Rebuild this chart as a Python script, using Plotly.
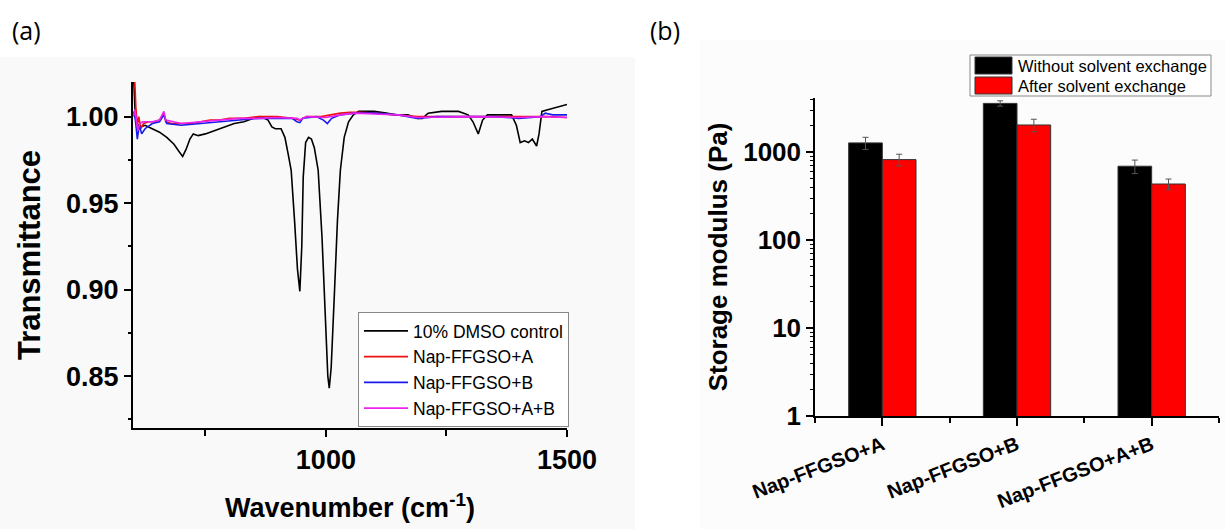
import plotly.graph_objects as go

W, H = 1225, 529

# ---------------- (a) FTIR spectra ----------------
wn_control = [601, 604, 608, 615, 625, 640, 655, 670, 685, 695, 703, 710, 718, 725, 735, 750,
              770, 790, 810, 830, 850, 865, 880, 888, 895, 907, 915, 922, 928, 935, 941, 946,
              950, 953, 958, 964, 970, 976, 984, 992, 1000, 1004, 1007, 1011, 1018, 1024, 1030,
              1038, 1047, 1057, 1068, 1100, 1125, 1145, 1170, 1190, 1200, 1212, 1240, 1275, 1295,
              1305, 1316, 1325, 1335, 1360, 1385, 1395, 1403, 1412, 1420, 1428, 1433, 1437, 1442,
              1448, 1460, 1475, 1490, 1500]
t_control = [1.025, 1.005, 0.996, 0.994, 0.995, 0.993, 0.991, 0.988, 0.984, 0.980, 0.977, 0.981,
             0.987, 0.990, 0.989, 0.990, 0.992, 0.994, 0.996, 0.997, 0.999, 1.000, 0.998, 0.994,
             0.993, 0.993, 0.988, 0.978, 0.969, 0.940, 0.912, 0.899, 0.925, 0.965, 0.985, 0.988,
             0.987, 0.982, 0.969, 0.930, 0.875, 0.850, 0.843, 0.855, 0.900, 0.940, 0.969, 0.988,
             0.997, 1.001, 1.003, 1.003, 1.002, 1.001, 1.001, 0.999, 0.999, 1.002, 1.003, 1.003,
             1.001, 0.997, 0.990, 0.998, 1.001, 1.001, 1.001, 0.995, 0.985, 0.986, 0.985, 0.987,
             0.985, 0.983, 0.990, 1.003, 1.004, 1.005, 1.006, 1.007]

wn_a = [601, 603, 606, 609, 612, 616, 622, 632, 645, 655, 664, 668, 680, 700, 720, 740, 760, 780,
        800, 830, 860, 900, 930, 946, 960, 990, 1010, 1030, 1050, 1070, 1100, 1140, 1190, 1230,
        1300, 1350, 1400, 1440, 1460, 1500]
t_a = [1.025, 1.025, 1.005, 0.995, 1.000, 0.993, 0.996, 0.997, 0.997, 0.998, 1.002, 0.997, 0.996,
       0.996, 0.996, 0.997, 0.998, 0.998, 0.999, 0.999, 1.000, 1.000, 0.999, 0.998, 1.000, 1.000,
       1.001, 1.002, 1.0025, 1.0025, 1.002, 1.001, 1.000, 1.000, 1.000, 1.000, 1.000, 1.000,
       1.000, 0.9995]

wn_b = [601, 605, 609, 613, 618, 625, 640, 655, 664, 670, 700, 740, 780, 820, 860, 900, 930, 940,
        946, 952, 980, 995, 1003, 1012, 1030, 1060, 1100, 1150, 1190, 1230, 1300, 1350, 1400,
        1445, 1455, 1470, 1500]
t_b = [1.003, 0.998, 0.987, 0.995, 0.990, 0.993, 0.996, 0.997, 1.001, 0.996, 0.995, 0.996, 0.997,
       0.998, 0.999, 0.999, 0.999, 0.997, 0.9965, 0.999, 1.000, 0.998, 0.996, 0.999, 1.001, 1.002,
       1.002, 1.001, 0.999, 1.000, 1.000, 1.000, 0.999, 1.000, 1.002, 1.001, 1.001]

wn_ab = [601, 604, 607, 610, 614, 620, 640, 655, 664, 668, 700, 740, 780, 820, 860, 900, 940, 946,
         960, 1000, 1030, 1060, 1100, 1150, 1190, 1300, 1400, 1450, 1500]
t_ab = [1.000, 1.004, 0.998, 0.992, 0.996, 0.997, 0.997, 0.998, 1.003, 0.998, 0.996, 0.997, 0.998,
        0.999, 0.999, 0.9995, 0.999, 0.998, 1.000, 0.9995, 1.001, 1.002, 1.0015, 1.001, 0.9995,
        1.000, 0.9995, 1.000, 0.9995]

spec_names = ["10% DMSO control", "Nap-FFGSO+A", "Nap-FFGSO+B", "Nap-FFGSO+A+B"]

# ---------------- (b) storage modulus ----------------
categories = ["Nap-FFGSO+A", "Nap-FFGSO+B", "Nap-FFGSO+A+B"]
g_without = [1270, 3570, 690]
g_without_err = [200, 250, 120]
g_after = [820, 2030, 433]
g_after_err = [124, 328, 60]
bar_names = ["Without solvent exchange", "After solvent exchange"]

FONT = "Liberation Sans, Arial, sans-serif"


def px(x):
    return x / W


def py(y):
    return 1 - y / H


fig = go.Figure()

spec_colors = ["#000000", "#ee1111", "#1a1aee", "#ee22ee"]
for wn, tr, name, col in zip([wn_control, wn_a, wn_b, wn_ab], [t_control, t_a, t_b, t_ab],
                             spec_names, spec_colors):
    fig.add_trace(go.Scatter(x=wn, y=tr, mode="lines", name=name,
                             line=dict(color=col, width=1.6),
                             xaxis="x", yaxis="y", legend="legend"))

x_pos = list(range(1, len(categories) + 1))
fig.add_trace(go.Bar(x=x_pos, y=g_without, name=bar_names[0], showlegend=False,
                     marker=dict(color="#000000", line=dict(color="#333333", width=1)),
                     error_y=dict(type="data", array=g_without_err, color="#555555",
                                  thickness=1, width=3),
                     xaxis="x2", yaxis="y2"))
fig.add_trace(go.Bar(x=x_pos, y=g_after, name=bar_names[1], showlegend=False,
                     marker=dict(color="#ff0000", line=dict(color="#333333", width=1)),
                     error_y=dict(type="data", array=g_after_err, color="#555555",
                                  thickness=1, width=3),
                     xaxis="x2", yaxis="y2"))

tickfont = dict(family=FONT, size=27, color="black", weight="bold")

fig.update_layout(
    width=W, height=H,
    margin=dict(l=0, r=0, t=0, b=0, autoexpand=False),
    paper_bgcolor="white",
    plot_bgcolor="rgba(0,0,0,0)",
    barmode="group", bargap=0.5, bargroupgap=0,
    font=dict(family=FONT, color="black"),
    xaxis=dict(domain=[px(133), px(567)], range=[600, 1500], anchor="y", automargin=False,
               showline=True, linecolor="black", linewidth=2,
               ticks="outside", ticklen=7, tickwidth=2, tickcolor="black",
               tick0=0, dtick=500, showgrid=False, zeroline=False,
               minor=dict(ticks="outside", ticklen=6, tickwidth=2, tickcolor="black",
                          dtick=250, showgrid=False),
               tickfont=tickfont,
               title=dict(text="Wavenumber (cm<sup>-1</sup>)", standoff=24,
                          font=dict(family=FONT, size=27, color="black", weight="bold"))),
    yaxis=dict(domain=[py(428), py(82)], range=[0.82, 1.02], anchor="x", automargin=False,
               showline=True, linecolor="black", linewidth=2,
               ticks="outside", ticklen=7, tickwidth=2, tickcolor="black",
               tick0=0, dtick=0.05, tickformat=".2f", showgrid=False, zeroline=False,
               minor=dict(ticks="outside", ticklen=3, tickwidth=2, tickcolor="black",
                          dtick=0.025, showgrid=False),
               tickfont=tickfont,
               title=dict(text="Transmittance", standoff=16,
                          font=dict(family=FONT, size=31, color="black", weight="bold"))),
    xaxis2=dict(domain=[px(815), px(1219)], range=[0.5, 3.5], anchor="y2", automargin=False,
                showline=True, linecolor="black", linewidth=1.5,
                tickmode="array", tickvals=x_pos, ticktext=categories,
                ticks="outside", ticklen=8, tickwidth=1.5, tickcolor="black",
                minor=dict(ticks="outside", ticklen=5, tickwidth=1.5, tickcolor="black",
                           tick0=0.5, dtick=1, showgrid=False),
                tickangle=-21, showgrid=False, zeroline=False,
                tickfont=dict(family=FONT, size=20, color="black", weight="bold")),
    yaxis2=dict(domain=[py(416), py(98)], type="log", range=[0, 3.614], anchor="x2",
                automargin=False,
                showline=True, linecolor="black", linewidth=1.5,
                tickmode="array", tickvals=[1, 10, 100, 1000], ticktext=["1", "10", "100", "1000"],
                ticks="outside", ticklen=7, tickwidth=1.5, tickcolor="black",
                minor=dict(ticks="outside", ticklen=3, tickwidth=1, tickcolor="black",
                           dtick="D1", showgrid=False),
                showgrid=False, zeroline=False,
                tickfont=dict(family=FONT, size=26, color="black", weight="bold"),
                title=dict(text="Storage modulus (Pa)", standoff=8,
                           font=dict(family=FONT, size=26, color="black", weight="bold"))),
    legend=dict(x=px(569), y=py(427), xanchor="right", yanchor="bottom",
                bgcolor="white", bordercolor="#888888", borderwidth=1,
                font=dict(family=FONT, size=17.5, color="black"),
                tracegroupgap=0, itemwidth=44),
)

# light backgrounds of the two panels
fig.add_shape(type="rect", xref="paper", yref="paper", x0=0, x1=px(635), y0=0, y1=py(57),
              fillcolor="#f9f9f9", line=dict(width=0), layer="below")
fig.add_shape(type="rect", xref="paper", yref="paper", x0=px(700), x1=1, y0=0, y1=py(40),
              fillcolor="#fcfcfc", line=dict(width=0), layer="below")

# legend of panel (b)
fig.add_shape(type="rect", xref="paper", yref="paper", x0=px(970), x1=px(1211),
              y0=py(96), y1=py(55), fillcolor="white", line=dict(color="#888888", width=1))
for i, (name, col) in enumerate(zip(bar_names, ["#000000", "#ff0000"])):
    top = 57 + i * 20
    fig.add_shape(type="rect", xref="paper", yref="paper", x0=px(975), x1=px(1012),
                  y0=py(top + 17), y1=py(top), fillcolor=col, line=dict(color="#333333", width=1))
    fig.add_annotation(xref="paper", yref="paper", x=px(1016), y=py(top + 9), text=name,
                       showarrow=False, xanchor="left", yanchor="middle",
                       font=dict(family=FONT, size=16.5, color="black"))

# panel labels
fig.add_annotation(xref="paper", yref="paper", x=px(10), y=py(30), text="(a)", showarrow=False,
                   xanchor="left", yanchor="middle",
                   font=dict(family="Open Sans, sans-serif", size=25, color="black"))
fig.add_annotation(xref="paper", yref="paper", x=px(648), y=py(30), text="(b)", showarrow=False,
                   xanchor="left", yanchor="middle",
                   font=dict(family="Open Sans, sans-serif", size=25, color="black"))

fig.write_html("out.html")
